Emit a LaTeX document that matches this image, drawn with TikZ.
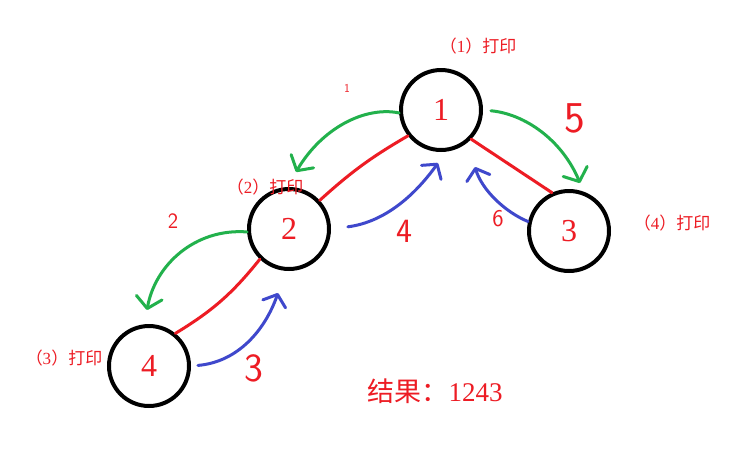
\documentclass[tikz,border=0pt]{standalone}
\usepackage{fontspec}
\setmainfont{Liberation Serif}
\newfontfamily\cjk{Noto Sans CJK SC}
\usetikzlibrary{positioning,arrows.meta}
\definecolor{paintred}{RGB}{237,28,36}
\definecolor{paintgreen}{RGB}{34,177,76}
\definecolor{paintblue}{RGB}{63,72,204}

\begin{document}
\begin{tikzpicture}[
    x=1pt, y=-1pt,
    vertex/.style={
      circle, draw=black, line width=4pt, minimum size=80pt, inner sep=0pt,
      text=paintred, font=\fontsize{32}{32}\selectfont
    },
    tag/.style={text=paintred, inner sep=0pt, font=\fontsize{17}{17}\selectfont},
    stepno/.style={text=paintred, inner sep=0pt, font=\sffamily\fontsize{#1}{#1}\selectfont},
    edge/.style={draw=paintred, line width=3pt, line cap=round},
    descend/.style={draw=paintgreen, line width=3pt, line cap=round,
      -{Straight Barb[length=11pt,width=26pt,line width=3pt,round]}},
    ascend/.style={draw=paintblue, line width=3pt, line cap=round,
      -{Straight Barb[length=10pt,width=24pt,line width=3pt,round]}}
  ]
    \fill[white] (0,0) rectangle (750,467);
    \useasboundingbox (0,0) rectangle (750,467);

    % the tree
    \node[vertex] (n1) at (441,110) {1};
    \node[vertex] (n2) at (289,229) {2};
    \node[vertex] (n3) at (569,231) {3};
    \node[vertex] (n4) at (149,366) {4};
    \draw[edge] (n1.218) to[bend right=6] (n2.43);
    \draw[edge] (n1.316) -- (n3.114);
    \draw[edge] (n2.226) to[bend left=10] (n4.51);

    % print order
    \node[tag] (p1) at (478,46) {\cjk（\rmfamily 1\cjk）打印};
    \node[tag] (p2) at (265,187) {\cjk（\rmfamily 2\cjk）打印};
    \node[tag] (p3) at (64,358) {\cjk（\rmfamily 3\cjk）打印};
    \node[tag] (p4) at (672,223) {\cjk（\rmfamily 4\cjk）打印};
    \node[text=paintred, font=\fontsize{27}{27}\selectfont] (res) at (435,391)
      {\cjk 结果：\rmfamily 1243};

    % going down
    \coordinate (g1) at (296,172);
    \coordinate (g2) at (580,183);
    \coordinate (g3) at (147,310);
    \draw[descend] (n1.184) .. controls (365,106) and (322,128) .. (g1);
    \draw[descend, shorten <=8pt] (n1.0) .. controls (525,114) and (562,140) .. (g2);
    \draw[descend] (n2.184) .. controls (195,228) and (155,265) .. (g3);

    % going back
    \coordinate (b1) at (278,293);
    \coordinate (b2) at (438,163);
    \coordinate (b3) at (475,167);
    \draw[ascend, shorten <=7pt] (n4.0) .. controls (238,362) and (265,330) .. (b1);
    \draw[ascend, shorten <=17pt] (n2.0) .. controls (385,222) and (415,195) .. (b2);
    \draw[ascend] (n3.167) .. controls (505,212) and (482,190) .. (b3);

    % step numbers
    \node[stepno=12] (s1) at (347,88) {1};
    \node[stepno=22] (s2) at (173,221) {2};
    \node[stepno=40] (s3) at (254,368) {3};
    \node[stepno=34] (s4) at (404,231) {4};
    \node[stepno=44] (s5) at (575,118) {5};
    \node[stepno=24] (s6) at (498,219) {6};
\end{tikzpicture}
\end{document}
